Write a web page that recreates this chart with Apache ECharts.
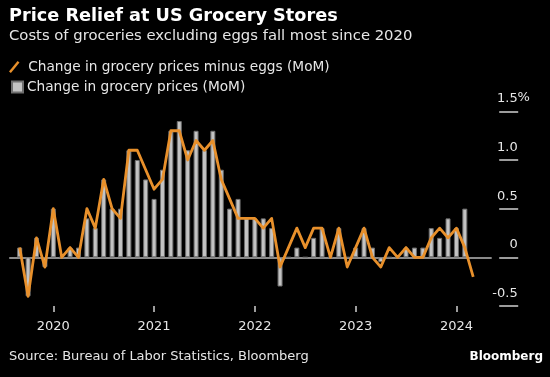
<!DOCTYPE html>
<html><head><meta charset="utf-8">
<script src="https://cdn.jsdelivr.net/npm/echarts@6/dist/echarts.min.js"></script>
<style>html,body{margin:0;padding:0;background:#000;}#c{width:550px;height:377px;}</style>
</head><body><div id="c"></div>
<script>
// Monthly periods (Sep 2019 – Mar 2024)
const months = [
  '2019-09','2019-10','2019-11','2019-12',
  '2020-01','2020-02','2020-03','2020-04','2020-05','2020-06','2020-07','2020-08','2020-09','2020-10','2020-11','2020-12',
  '2021-01','2021-02','2021-03','2021-04','2021-05','2021-06','2021-07','2021-08','2021-09','2021-10','2021-11','2021-12',
  '2022-01','2022-02','2022-03','2022-04','2022-05','2022-06','2022-07','2022-08','2022-09','2022-10','2022-11','2022-12',
  '2023-01','2023-02','2023-03','2023-04','2023-05','2023-06','2023-07','2023-08','2023-09','2023-10','2023-11','2023-12',
  '2024-01','2024-02','2024-03'
];
// Change in grocery prices (MoM, %)
const groceryAll = [
  0.1,-0.4,0.2,-0.1,
  0.5,0.0,0.1,0.1,0.4,0.3,0.8,0.5,0.5,1.1,1.0,0.8,
  0.6,0.9,1.3,1.4,1.1,1.3,1.1,1.3,0.9,0.5,0.6,0.4,
  0.4,0.4,0.3,-0.3,0.0,0.1,0.0,0.2,0.3,0.0,0.3,0.0,
  0.1,0.3,0.1,-0.05,0.0,0.0,0.1,0.1,0.1,0.3,0.2,0.4,
  0.3,0.5,null
];
// Change in grocery prices minus eggs (MoM, %)
const groceryExEggs = [
  0.1,-0.4,0.2,-0.1,
  0.5,0.0,0.1,0.0,0.5,0.3,0.8,0.5,0.4,1.1,1.1,0.9,
  0.7,0.8,1.3,1.3,1.0,1.2,1.1,1.2,0.8,0.6,0.4,0.4,
  0.4,0.3,0.4,-0.1,0.1,0.3,0.1,0.3,0.3,0.0,0.3,-0.1,
  0.1,0.3,0.0,-0.1,0.1,0.0,0.1,0.0,0.0,0.2,0.3,0.2,
  0.3,0.1,-0.2
];
const yTickValues = [-0.5, 0, 0.5, 1.0, 1.5];

const FONT = '"DejaVu Sans", sans-serif';
const TXT = '#e6e6e6';
const ORANGE = '#e8902b';

const yearTickIdx = [];
months.forEach((m, i) => { if (m.endsWith('-01')) yearTickIdx.push(i); });

const chart = echarts.init(document.getElementById('c'), null, {renderer: 'canvas'});
chart.setOption({
  backgroundColor: '#000',
  animation: false,
  textStyle: {fontFamily: FONT},
  title: [
    {text: 'Price Relief at US Grocery Stores', left: 9, top: 7, padding: 0,
     textStyle: {color: '#fff', fontSize: 17.7, fontWeight: 'bold', fontFamily: FONT}},
    {text: 'Costs of groceries excluding eggs fall most since 2020', left: 9, top: 28.5, padding: 0,
     textStyle: {color: TXT, fontSize: 14.8, fontWeight: 'normal', fontFamily: FONT}},
    {text: 'Source: Bureau of Labor Statistics, Bloomberg', left: 9, top: 350, padding: 0,
     textStyle: {color: TXT, fontSize: 13, fontWeight: 'normal', fontFamily: FONT}},
    {text: 'Bloomberg', right: 7, top: 351, padding: 0,
     textStyle: {color: '#fff', fontSize: 12, fontWeight: 'bold', fontFamily: FONT}}
  ],
  legend: [
    {data: [{name: 'Change in grocery prices minus eggs (MoM)', icon: 'path://M0,11 L9,0 L11,1.6 L2,12.6 Z'}],
     left: 9, top: 60, padding: 0, itemWidth: 12, itemHeight: 12, itemGap: 0,
     textStyle: {color: TXT, fontSize: 13.7, fontFamily: FONT, padding: [0,0,0,3]}},
    {data: [{name: 'Change in grocery prices (MoM)', icon: 'rect'}],
     left: 11, top: 80, padding: 0, itemWidth: 11, itemHeight: 11, itemGap: 0,
     textStyle: {color: TXT, fontSize: 13.7, fontFamily: FONT, padding: [0,0,0,-1]}}
  ],
  grid: {left: 9.2, right: 58.3, top: 111.3, bottom: 71, containLabel: false},
  xAxis: {
    type: 'value', min: -1.25, max: 56.2,
    axisLine: {show: false, onZero: false},
    splitLine: {show: false},
    axisTick: {show: true, customValues: yearTickIdx, length: 6, lineStyle: {color: '#cfcfcf', width: 1.5}},
    axisLabel: {show: true, customValues: yearTickIdx, margin: 14, color: TXT, fontSize: 13, fontFamily: FONT,
      formatter: v => months[Math.round(v)].slice(0, 4)}
  },
  yAxis: {
    type: 'value', position: 'right', offset: 7.5,
    min: -0.5, max: 1.5, interval: 0.5,
    axisLine: {show: false, onZero: false},
    splitLine: {show: false},
    axisTick: {show: true, length: 19, lineStyle: {color: '#cfcfcf', width: 1.5}},
    axisLabel: {show: true, margin: 18.5, align: 'right', verticalAlign: 'bottom', padding: [0,0,6,0],
      color: TXT, fontSize: 13, fontFamily: FONT,
      formatter: v => (v === 0 ? '0' : v.toFixed(1))}
  },
  series: [
    {name: 'Change in grocery prices (MoM)', type: 'bar', barWidth: 5,
     itemStyle: {color: '#c3c3c3', borderColor: '#6f6f6f', borderWidth: 1},
     data: groceryAll.map((v, i) => [i, v]), z: 2,
     markLine: {silent: true, symbol: 'none', label: {show: false}, animation: false,
       lineStyle: {color: '#8a8a8a', width: 2, type: 'solid'}, data: [{yAxis: 0}], z: 1}},
    {name: 'Change in grocery prices minus eggs (MoM)', type: 'line', symbol: 'none',
     lineStyle: {color: ORANGE, width: 2.8, join: 'round'}, itemStyle: {color: ORANGE},
     data: groceryExEggs.map((v, i) => [i, v]), z: 3}
  ]
});
// percent sign after the top tick label
const topY = chart.convertToPixel({yAxisIndex: 0}, yTickValues[yTickValues.length - 1]);
chart.setOption({graphic: [{type: 'text', left: 517.5, top: topY - 6 - 14, silent: true,
  style: {text: '%', fill: TXT, font: '13px ' + FONT}}]});
</script></body></html>
